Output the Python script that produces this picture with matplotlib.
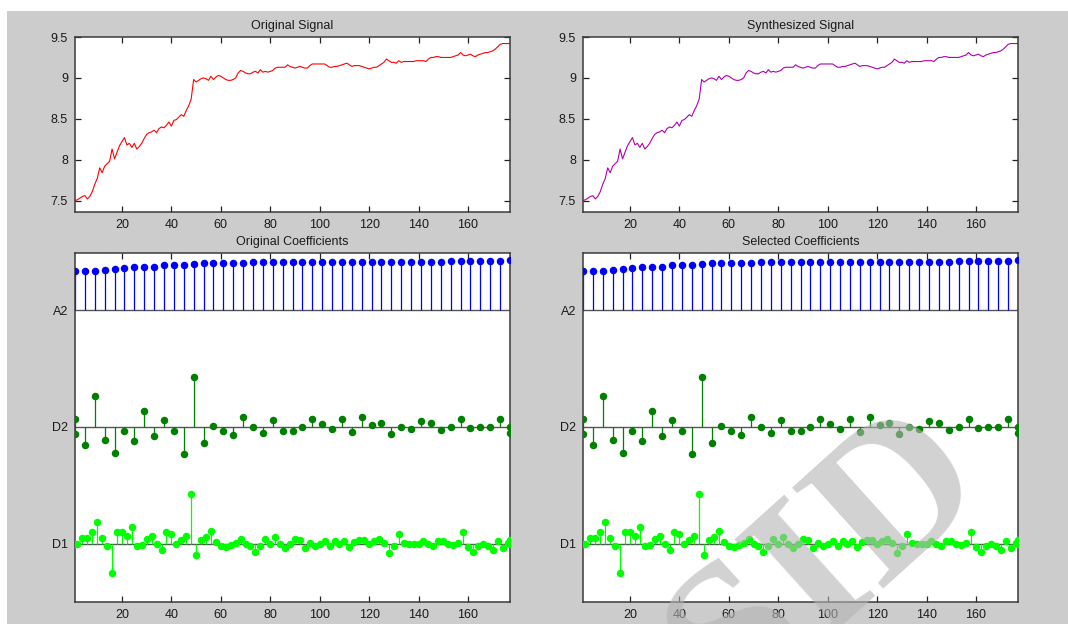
import matplotlib.pyplot as plt
from matplotlib.patches import Rectangle

plt.rcParams['font.family'] = ['Liberation Sans', 'DejaVu Sans']

# signal, samples 1..177
signal = [
    7.50, 7.51, 7.53, 7.55, 7.56, 7.52, 7.55, 7.61, 7.70, 7.77,
    7.90, 7.84, 7.92, 7.95, 7.98, 8.13, 8.01, 8.09, 8.17, 8.22,
    8.27, 8.18, 8.20, 8.15, 8.20, 8.13, 8.16, 8.20, 8.26, 8.31,
    8.33, 8.34, 8.36, 8.33, 8.38, 8.40, 8.39, 8.42, 8.46, 8.41,
    8.48, 8.49, 8.52, 8.55, 8.53, 8.60, 8.66, 8.74, 8.98, 8.95,
    8.97, 8.99, 9.00, 8.99, 8.97, 9.02, 8.98, 9.01, 9.03, 9.02,
    9.00, 8.98, 8.97, 8.97, 8.98, 9.00, 9.06, 9.09, 9.08, 9.06,
    9.05, 9.05, 9.07, 9.08, 9.06, 9.10, 9.07, 9.08, 9.07, 9.08,
    9.09, 9.12, 9.13, 9.13, 9.13, 9.13, 9.16, 9.14, 9.13, 9.12,
    9.13, 9.14, 9.13, 9.12, 9.12, 9.15, 9.17, 9.17, 9.17, 9.17,
    9.17, 9.17, 9.15, 9.13, 9.13, 9.14, 9.14, 9.15, 9.16, 9.17,
    9.18, 9.16, 9.14, 9.15, 9.15, 9.15, 9.14, 9.13, 9.12, 9.11,
    9.12, 9.13, 9.13, 9.15, 9.17, 9.19, 9.23, 9.21, 9.19, 9.19,
    9.18, 9.21, 9.19, 9.20, 9.20, 9.20, 9.20, 9.20, 9.21, 9.21,
    9.21, 9.21, 9.20, 9.23, 9.25, 9.25, 9.26, 9.26, 9.25, 9.25,
    9.25, 9.25, 9.25, 9.26, 9.27, 9.28, 9.31, 9.28, 9.27, 9.28,
    9.29, 9.27, 9.26, 9.28, 9.29, 9.30, 9.31, 9.31, 9.32, 9.33,
    9.35, 9.38, 9.41, 9.42, 9.42, 9.42, 9.42,
]
samples = list(range(1, len(signal) + 1))

# coefficients (heights relative to the spacing between levels)
a2_pos = list(range(1, 178, 4))
a2 = [0.338, 0.338, 0.338, 0.346, 0.355, 0.363, 0.372, 0.372, 0.372, 0.383,
      0.383, 0.383, 0.392, 0.401, 0.406, 0.406, 0.406, 0.406, 0.415, 0.415,
      0.415, 0.415, 0.415, 0.415, 0.415, 0.415, 0.415, 0.415, 0.415, 0.415,
      0.415, 0.415, 0.415, 0.415, 0.415, 0.415, 0.415, 0.415, 0.423, 0.423,
      0.423, 0.423, 0.423, 0.423, 0.429]

d2_pos = [1] + list(range(1, 178, 4)) + [177]
d2 = [0.066, -0.057, -0.152, 0.263, -0.109, -0.220, -0.034, -0.117, 0.134, -0.074,
      0.057, -0.034, -0.229, 0.429, -0.134, 0.009, -0.034, -0.066, 0.083, -0.003,
      -0.049, 0.057, -0.034, -0.034, 0.003, 0.066, 0.023, -0.017, 0.066, -0.043,
      0.083, 0.017, 0.034, -0.060, 0.0, -0.017, 0.049, 0.034, -0.026, 0.0,
      0.072, -0.011, 0.0, 0.0, 0.072, -0.003, -0.052]

d1_pos = [1] + list(range(2, 177, 2)) + [177, 177]
d1 = [-0.006, 0.0, 0.052, 0.046, 0.103, 0.186, 0.052, -0.017, -0.252, 0.103,
      0.097, 0.069, 0.146, -0.023, -0.011, 0.040, 0.069, 0.0, -0.057, 0.097,
      0.080, 0.0, 0.031, 0.066, 0.423, -0.100, 0.031, 0.057, 0.112, 0.011,
      -0.023, -0.031, -0.011, 0.009, 0.040, -0.006, -0.023, -0.069, -0.017, 0.040,
      -0.006, 0.060, 0.0, -0.040, -0.006, 0.040, 0.031, -0.040, 0.003, -0.017,
      -0.006, 0.020, -0.023, 0.020, 0.0, 0.026, -0.031, 0.014, 0.031, 0.031,
      -0.006, 0.020, 0.040, 0.009, -0.080, -0.023, 0.086, 0.009, 0.0, 0.0,
      0.0, 0.020, 0.0, -0.017, 0.020, 0.020, 0.0, -0.014, 0.003, 0.103,
      -0.031, -0.072, -0.017, -0.006, -0.017, -0.057, 0.023, -0.040, 0.003, 0.034,
      -0.006]

levels = {'A2': 3, 'D2': 2, 'D1': 1}
W, H = 1068, 624


def box(x0, y0, x1, y1):
    return [x0 / W, 1 - y1 / H, (x1 - x0) / W, (y1 - y0) / H]


def style(ax):
    ax.set_facecolor('white')
    for s in ax.spines.values():
        s.set_color('#3a3a3a')
        s.set_linewidth(1.1)
    ax.tick_params(direction='in', length=4, width=0.9, color='#222222',
                   labelsize=9, labelcolor='#1a1a1a', top=True, right=True, pad=5)
    ax.set_xticks(range(20, 161, 20))
    ax.set_xlim(1, 177)


def signal_panel(ax, color, title):
    style(ax)
    ax.plot(samples, signal, color=color, lw=0.8)
    ax.set_ylim(7.36, 9.5)
    ax.set_yticks([7.5, 8, 8.5, 9, 9.5])
    ax.set_yticklabels(['7.5', '8', '8.5', '9', '9.5'])
    ax.set_title(title, fontsize=9, color='#1a1a1a', pad=6)


def coef_panel(ax, title):
    style(ax)
    ax.tick_params(axis='y', length=0)
    for name, lev in levels.items():
        ax.axhline(lev, color='#555555', lw=1.0, zorder=1)
    for pos, vals, lev, col in [(a2_pos, a2, 3, '#0000ff'),
                                (d2_pos, d2, 2, '#008000'),
                                (d1_pos, d1, 1, '#00ff00')]:
        tops = [lev + v for v in vals]
        ax.vlines(pos, lev, tops, color=col, lw=0.9, zorder=2)
        ax.plot(pos, tops, 'o', color=col, ms=4.4, zorder=3)
    ax.set_ylim(0.5, 3.49)
    ax.set_yticks(list(levels.values()))
    ax.set_yticklabels(list(levels.keys()))
    ax.set_title(title, fontsize=9, color='#1a1a1a', pad=6)


fig = plt.figure(figsize=(W / 100, H / 100), dpi=100, facecolor='white')
fig.patches.append(Rectangle((7 / W, 0), 1, 1 - 11 / H, transform=fig.transFigure,
                             facecolor='#cccccc', edgecolor='none', zorder=-5))

signal_panel(fig.add_axes(box(75, 37, 510, 212)), '#ff0000', 'Original Signal')
signal_panel(fig.add_axes(box(583, 37, 1018, 212)), '#b000b0', 'Synthesized Signal')
coef_panel(fig.add_axes(box(75, 253, 510, 602)), 'Original Coefficients')
coef_panel(fig.add_axes(box(583, 253, 1018, 602)), 'Selected Coefficients')

# watermark
fig.text(0.775, 0.10, 'SID', fontsize=150, family='Liberation Serif', weight='bold',
         color='#b4b4b4', alpha=0.6, rotation=42, ha='center', va='center', zorder=10)

fig.savefig('out.png', dpi=100, facecolor=fig.get_facecolor())
